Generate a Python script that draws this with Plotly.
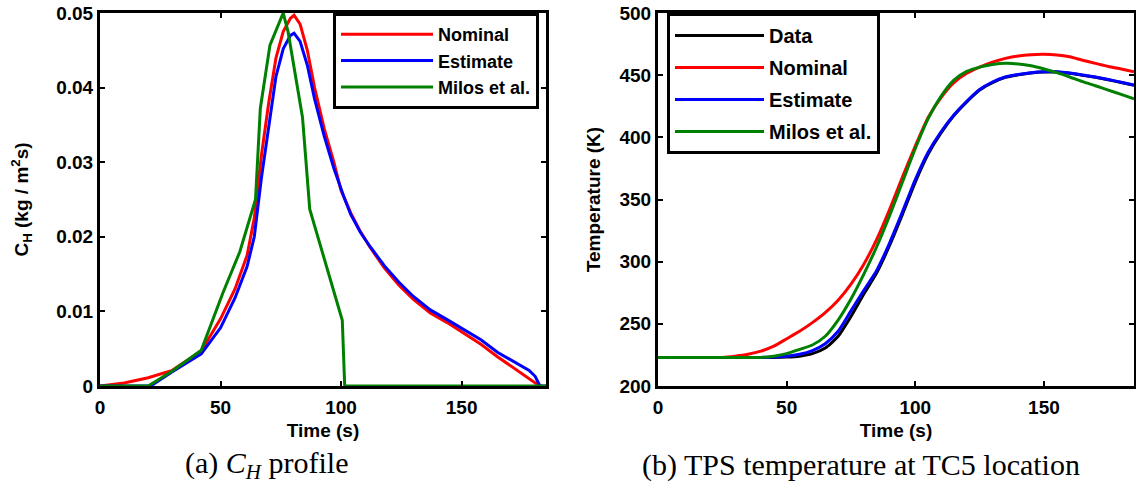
import plotly.graph_objects as go

# ---------------- Left panel: C_H profile ----------------
t_nom = [0, 10, 20, 30, 42, 50, 56, 61, 64, 67, 70, 73, 76, 79, 80.5, 83, 86, 89, 93, 97, 100, 104, 108, 112,
         118, 124, 130, 137, 144, 151, 158, 165, 172, 178, 181, 183]
ch_nom = [0, 0.0004, 0.0011, 0.0021, 0.0047, 0.0090, 0.0130, 0.0175, 0.0225, 0.0310, 0.0380, 0.0440, 0.0475,
          0.0493, 0.0497, 0.0485, 0.0450, 0.0400, 0.0345, 0.0300, 0.0262, 0.0232, 0.0207, 0.0186,
          0.0158, 0.0135, 0.0116, 0.0098, 0.0085, 0.0071, 0.0056, 0.0039, 0.0023, 0.0010, 0.0003, 0]

t_est = [0, 21, 30, 42, 50, 56, 61, 64, 67, 70, 73, 76, 79, 80.5, 83, 86, 89, 93, 97, 101, 104, 108, 112,
         118, 124, 130, 137, 144, 151, 158, 165, 172, 178, 180.5, 182.5, 185]
ch_est = [0, 0, 0.0019, 0.0043, 0.0078, 0.0118, 0.0160, 0.0200, 0.0280, 0.0350, 0.0415, 0.0452, 0.0470,
          0.0473, 0.0462, 0.0430, 0.0385, 0.0335, 0.0292, 0.0255, 0.0230, 0.0206, 0.0187,
          0.0161, 0.0139, 0.0120, 0.0102, 0.0089, 0.0076, 0.0062, 0.0045, 0.0032, 0.0021, 0.0013, 0, 0]

t_mil = [0, 20, 30, 42, 51, 58, 64.5, 66.5, 70.5, 76, 78, 81, 84, 87, 100.5, 101.5, 185]
ch_mil = [0, 0, 0.0020, 0.0048, 0.0125, 0.0180, 0.0250, 0.0372, 0.0457, 0.0500, 0.0475, 0.0420, 0.0360,
          0.0237, 0.0088, 0, 0]

# ---------------- Right panel: TPS temperature ----------------
t_T = [0, 5, 10, 15, 20, 25, 30, 35, 40, 45, 50, 55, 60, 65, 70, 75, 80, 85, 90, 95, 100, 105, 110, 115,
       120, 125, 130, 135, 140, 145, 150, 155, 160, 165, 170, 175, 180, 185]
T_data = [223, 223, 223, 223, 223, 223, 223, 223, 223, 223, 223.3, 224, 226, 230.5, 240, 256, 274, 291, 313,
          338, 364, 386.5, 403.5, 417.5, 428.5, 438, 444, 448.3, 450.3, 451.8, 452.5, 452.5, 451.5, 450,
          448.3, 446.3, 444.1, 441.8]
T_nom = [223, 223, 223, 223, 223, 223, 224, 225.5, 228, 232, 238, 244, 251, 259, 269, 282, 298, 318, 342,
         368, 393, 416, 432, 444, 451.5, 456.5, 460.5, 463.5, 465.5, 466.5, 466.8, 466.3, 464.8, 462,
         459.5, 457, 455, 452.8]
T_est = [223, 223, 223, 223, 223, 223, 223, 223, 223, 223.3, 224, 225.5, 228.5, 234, 244, 260.5, 277, 293,
         315, 340, 366, 388, 404.5, 418, 429, 438.5, 444.5, 448.5, 450.5, 452, 452.8, 452.8, 451.8, 450.2,
         448.5, 446.5, 444.3, 442]
T_mil = [223, 223, 223, 223, 223, 223, 223, 223, 223, 224, 226, 229.5, 233, 240, 253, 270, 290, 312, 337,
         364, 391, 415, 433, 446, 453, 456.5, 458.5, 459.5, 459, 457.5, 455, 452, 448.5, 444.8, 441.5,
         438, 434.5, 431]

RED, BLUE, GREEN, BLACK = "#ff0000", "#0000ff", "#008000", "#000000"
LW = 3
FONT = "Liberation Sans"

fig = go.Figure()

left_series = [("Nominal", t_nom, ch_nom, RED), ("Estimate", t_est, ch_est, BLUE),
               ("Milos et al.", t_mil, ch_mil, GREEN)]
for name, xs, ys, c in left_series:
    fig.add_trace(go.Scatter(x=xs, y=ys, mode="lines", name=name, line=dict(color=c, width=LW),
                             xaxis="x", yaxis="y", legend="legend"))

right_series = [("Data", T_data, BLACK), ("Nominal", T_nom, RED), ("Estimate", T_est, BLUE),
                ("Milos et al.", T_mil, GREEN)]
for name, ys, c in right_series:
    fig.add_trace(go.Scatter(x=t_T, y=ys, mode="lines", name=name,
                             line=dict(color=c, width=LW, shape="spline", smoothing=0.6),
                             xaxis="x2", yaxis="y2", legend="legend2", legendgroup="R" + name))

W, H = 1136, 495


def fx(px):
    return px / W


def fy(py):
    return (H - py) / H


y_dom = [fy(386), fy(13)]
tickfont = dict(family=FONT, size=19, color="black", weight="bold")
titlefont = dict(family=FONT, size=19, color="black", weight="bold")
ax_common = dict(showline=True, linewidth=3, linecolor="black", mirror="ticks", ticks="inside",
                 ticklen=5, tickwidth=2, tickcolor="black", showgrid=False, zeroline=False,
                 tickfont=tickfont, automargin=False, ticklabeloverflow="allow")

fig.update_layout(
    width=W, height=H, margin=dict(l=0, r=0, t=0, b=0, autoexpand=False),
    paper_bgcolor="white", plot_bgcolor="white", showlegend=True,
    xaxis=dict(domain=[fx(100), fx(546)], range=[0, 185], dtick=50, anchor="y",
               title=dict(text="Time (s)", font=titlefont, standoff=7), ticklabelstandoff=2, **ax_common),
    yaxis=dict(domain=y_dom, range=[0, 0.05], dtick=0.01, anchor="x",
               title=dict(text="C<sub>H</sub> (kg / m<sup>2</sup>s)", font=titlefont, standoff=23),
               ticklabelstandoff=0, **ax_common),
    xaxis2=dict(domain=[fx(658), fx(1134)], range=[0, 185], dtick=50, anchor="y2",
                title=dict(text="Time (s)", font=titlefont, standoff=7), ticklabelstandoff=2, **ax_common),
    yaxis2=dict(domain=y_dom, range=[200, 500], dtick=50, anchor="x2",
                title=dict(text="Temperature (K)", font=titlefont, standoff=14),
                ticklabelstandoff=0, **ax_common),
    legend=dict(x=fx(333), y=fy(13), xanchor="left", yanchor="top", bgcolor="white",
                bordercolor="black", borderwidth=3, font=dict(family=FONT, size=18, color="black", weight="bold"),
                itemwidth=92, traceorder="normal"),
    legend2=dict(x=fx(667), y=fy(13), xanchor="left", yanchor="top", bgcolor="white",
                 bordercolor="black", borderwidth=3, font=dict(family=FONT, size=20, color="black", weight="bold"),
                 itemwidth=89, tracegroupgap=3, traceorder="grouped"),
    annotations=[
        dict(text="(a) <i>C</i><sub><i>H</i></sub> profile", x=fx(266), y=fy(465), xref="paper",
             yref="paper", xanchor="center", yanchor="middle", showarrow=False,
             font=dict(family="Liberation Serif", size=30, color="black")),
        dict(text="(b) TPS temperature at TC5 location", x=fx(861), y=fy(465), xref="paper",
             yref="paper", xanchor="center", yanchor="middle", showarrow=False,
             font=dict(family="Liberation Serif", size=30, color="black")),
    ],
)

# remove the default page margin so the figure fills the window exactly
fig.write_html("out.html", config={"displayModeBar": False},
               post_script="document.body.style.margin='0';document.body.style.overflow='hidden';")
